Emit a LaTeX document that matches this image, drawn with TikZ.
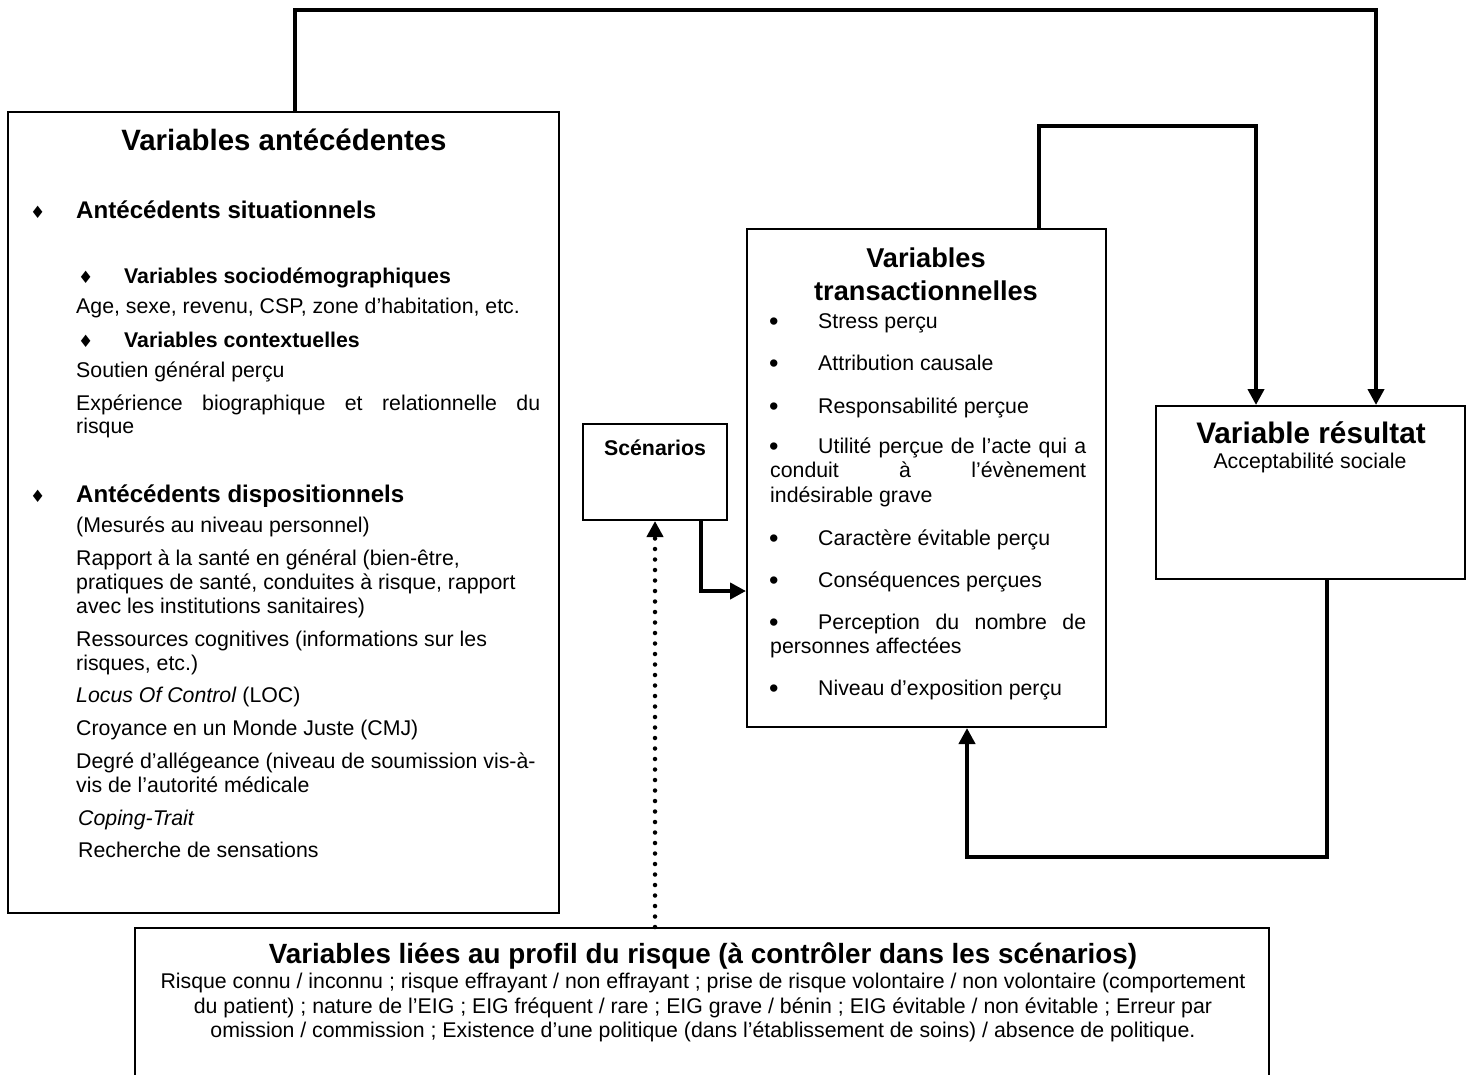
\documentclass[tikz,border=0pt]{standalone}
\usepackage{fontspec}
\setmainfont{Liberation Sans}
\newfontfamily\djv{DejaVu Sans}
\usetikzlibrary{arrows.meta}
\newcommand\fsbody{\fontsize{21.3}{24.5}\selectfont}
\newcommand\fsbig[1]{\fontsize{#1}{#1}\selectfont\bfseries}
\newcommand\fssub{\fontsize{24.1}{28}\selectfont\bfseries}
\newcommand\fsbold{\fontsize{21.3}{24.5}\selectfont\bfseries}
\newcommand\dia{{\djv\fontsize{17}{17}\selectfont ♦}}
\newcommand\bul{{\fontsize{27}{27}\selectfont •}}
\begin{document}
\begin{tikzpicture}[x=1pt,y=-1pt,
  box/.style={draw, line width=2pt, inner sep=0pt, fill=white},
  conn/.style={line width=4.5pt, line join=miter, -{Triangle[width=16pt,length=16pt]}},
  dotline/.style={line width=4.5pt, line cap=round, dash pattern=on 0pt off 10.5pt, -{Triangle[width=16pt,length=16pt]}},
  txt/.style={anchor=base west, inner sep=0pt, font=\fsbody},
  ctxt/.style={anchor=base, inner sep=0pt, font=\fsbody}]
\path[use as bounding box] (0,0) rectangle (1466,1074);
\fill[white] (0,0) rectangle (1466,1074);
\clip (0,0) rectangle (1466,1074);

% boxes
\node[box, minimum width=551pt, minimum height=801pt] (ante) at (283.5,512.5) {};
\node[box, minimum width=359pt, minimum height=498pt] (trans) at (926.5,478) {};
\node[box, minimum width=144pt, minimum height=96pt] (scen) at (655,472) {};
\node[box, minimum width=309pt, minimum height=173pt] (res) at (1310.5,492.5) {};
\node[box, minimum width=1134pt, minimum height=170pt] (risk) at (702,1013) {};

% connectors
\draw[conn] ([xshift=288pt]ante.north west) -- ++(0,-101) -| ([xshift=221pt]res.north west);
\draw[conn] ([xshift=293pt]trans.north west) -- ++(0,-102) -| ([xshift=101pt]res.north west);
\draw[conn] ([xshift=172pt]res.south west) -- ++(0,277) -| ([xshift=221pt]trans.south west);
\draw[conn] ([xshift=119pt]scen.south west) |- ([yshift=-363pt]trans.north west);
\draw[dotline] (risk.north -| scen.south) -- (scen.south);

% left box text
\node[ctxt, font=\fsbig{29.4}] (a0) at (284,150) {Variables antécédentes};
\node[txt] (d1) at (30,218) {\dia};
\node[txt, font=\fssub] (a1) at (76,218) {Antécédents situationnels};
\node[txt] (d2) at (78,283) {\dia};
\node[txt, font=\fsbold] (a2) at (124,283) {Variables sociodémographiques};
\node[txt] (a3) at (76,313) {Age, sexe, revenu, CSP, zone d’habitation, etc.};
\node[txt] (d3) at (78,347) {\dia};
\node[txt, font=\fsbold] (a4) at (124,347) {Variables contextuelles};
\node[txt] (a5) at (76,377) {Soutien général perçu};
\node[txt] (a6) at (76,410) {\makebox[464pt][s]{Expérience biographique et relationnelle du}};
\node[txt] (a7) at (76,433) {risque};
\node[txt] (d4) at (30,502) {\dia};
\node[txt, font=\fssub] (a8) at (76,502) {Antécédents dispositionnels};
\node[txt] (a9) at (76,532) {(Mesurés au niveau personnel)};
\node[txt] (a10) at (76,565) {Rapport à la santé en général (bien-être,};
\node[txt] (a11) at (76,589) {pratiques de santé, conduites à risque, rapport};
\node[txt] (a12) at (76,613) {avec les institutions sanitaires)};
\node[txt] (a13) at (76,646) {Ressources cognitives (informations sur les};
\node[txt] (a14) at (76,670) {risques, etc.)};
\node[txt] (a15) at (76,702) {\textit{Locus Of Control} (LOC)};
\node[txt] (a16) at (76,735) {Croyance en un Monde Juste (CMJ)};
\node[txt] (a17) at (76,768) {Degré d’allégeance (niveau de soumission vis-à-};
\node[txt] (a18) at (76,792) {vis de l’autorité médicale};
\node[txt] (a19) at (78,825) {\textit{Coping-Trait}};
\node[txt] (a20) at (78,857) {Recherche de sensations};

% transactional box text
\node[ctxt, font=\fsbig{27.2}] (t0) at (926,267) {Variables};
\node[ctxt, font=\fsbig{27.2}] (t0b) at (926,300) {transactionnelles};
\node[txt] (b1) at (769,330) {\bul};
\node[txt] (t1) at (818,328) {Stress perçu};
\node[txt] (b2) at (769,372) {\bul};
\node[txt] (t2) at (818,370) {Attribution causale};
\node[txt] (b3) at (769,415) {\bul};
\node[txt] (t3) at (818,413) {Responsabilité perçue};
\node[txt] (b4) at (769,455) {\bul};
\node[txt] (t4) at (818,453) {\makebox[268pt][s]{Utilité perçue de l’acte qui a}};
\node[txt] (t4b) at (770,477) {\makebox[316pt][s]{conduit à l’évènement}};
\node[txt] (t4c) at (770,502) {indésirable grave};
\node[txt] (b5) at (769,547) {\bul};
\node[txt] (t5) at (818,545) {Caractère évitable perçu};
\node[txt] (b6) at (769,589) {\bul};
\node[txt] (t6) at (818,587) {Conséquences perçues};
\node[txt] (b7) at (769,631) {\bul};
\node[txt] (t7) at (818,629) {\makebox[268pt][s]{Perception du nombre de}};
\node[txt] (t7b) at (770,653) {personnes affectées};
\node[txt] (b8) at (769,697) {\bul};
\node[txt] (t8) at (818,695) {Niveau d’exposition perçu};

% scenarios
\node[ctxt, font=\fsbold] (s0) at (655,455) {Scénarios};

% resultat
\node[ctxt, font=\fsbig{29.7}] (r0) at (1311,443) {Variable résultat};
\node[ctxt] (r1) at (1310,468) {Acceptabilité sociale};

% risk profile
\node[ctxt, font=\fsbig{27.8}] (p0) at (703,963) {Variables liées au profil du risque (à contrôler dans les scénarios)};
\node[ctxt] (p1) at (703,988) {Risque connu / inconnu ; risque effrayant / non effrayant ; prise de risque volontaire / non volontaire (comportement};
\node[ctxt] (p2) at (703,1013) {du patient) ; nature de l’EIG ; EIG fréquent / rare ; EIG grave / bénin ; EIG évitable / non évitable ; Erreur par};
\node[ctxt] (p3) at (703,1037) {omission / commission ; Existence d’une politique (dans l’établissement de soins) / absence de politique.};
\end{tikzpicture}
\end{document}
